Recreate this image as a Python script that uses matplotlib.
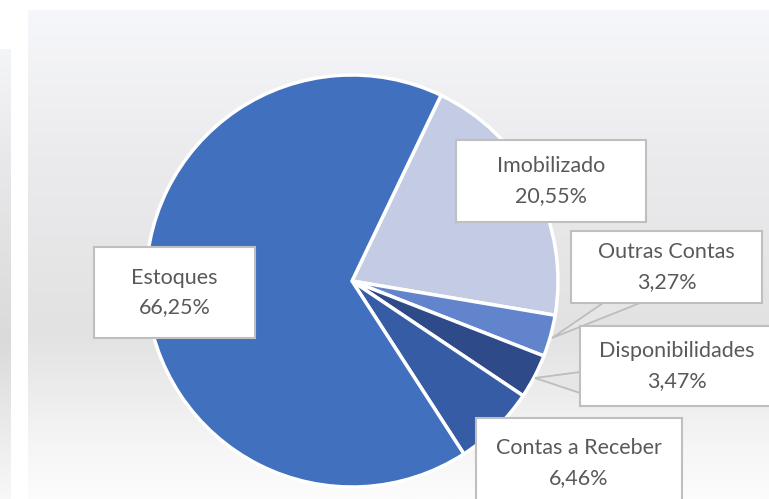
import numpy as np
import matplotlib
matplotlib.use("Agg")
import matplotlib.pyplot as plt
from matplotlib.colors import LinearSegmentedColormap
from matplotlib.patches import Rectangle, Polygon

# dados (ordem no sentido horario, a partir do topo direito)
categorias = ["Imobilizado", "Outras Contas", "Disponibilidades", "Contas a Receber", "Estoques"]
valores = [20.55, 3.27, 3.47, 6.46, 66.25]
rotulos = ["20,55%", "3,27%", "3,47%", "6,46%", "66,25%"]
cores = ["#c4cce5", "#6184cc", "#2e4a89", "#365ca6", "#4170be"]

W, H = 769, 499
fig = plt.figure(figsize=(W / 100, H / 100), dpi=100)
ax = fig.add_axes([0, 0, 1, 1])
ax.axis("off")

def py(y):
    # converte y em pixel (de cima) para coordenada do grafico
    return H - y

# fundo em degrade
fundo = LinearSegmentedColormap.from_list(
    "fundo", [(0, "#fcfcfc"), (0.1, "#f6f6f6"), (0.34, "#e2e2e2"), (0.7, "#ebebee"), (1, "#f6f7fa")])
grad = np.linspace(0, 1, 256).reshape(-1, 1)
ax.imshow(grad, cmap=fundo, origin="lower", extent=[28, W, 0, py(10)],
          aspect="auto", zorder=0)
fundo2 = LinearSegmentedColormap.from_list(
    "fundo2", [(0, "#f8f8f8"), (0.35, "#dadada"), (0.75, "#e8e8ea"), (1, "#f4f5f8")])
ax.imshow(grad, cmap=fundo2, origin="lower", extent=[0, 11, 0, py(49)],
          aspect="auto", zorder=0)

cx, cy, r = 352, py(281), 206
ax.pie(valores, colors=cores, startangle=64.4, counterclock=False,
       center=(cx, cy), radius=r,
       wedgeprops=dict(edgecolor="white", linewidth=2.5), frame=False)

# setas das legendas
setas = [
    [(552, 338), (603, 303), (640, 303)],
    [(535, 378), (580, 372), (580, 393)],
]
for s in setas:
    ax.add_patch(Polygon([(x, py(y)) for x, y in s], closed=True,
                         facecolor="#e6e6e6", edgecolor="#bdbdbd", lw=1.3, zorder=4))

caixas = {
    "Imobilizado": (456, 140, 646, 222),
    "Outras Contas": (571, 231, 762, 303),
    "Disponibilidades": (580, 326, 775, 406),
    "Contas a Receber": (476, 418, 682, 510),
    "Estoques": (94, 247, 255, 338),
}
for cat, rot in zip(categorias, rotulos):
    x0, y0, x1, y1 = caixas[cat]
    ax.add_patch(Rectangle((x0, py(y1)), x1 - x0, y1 - y0, facecolor="white",
                           edgecolor="#bfbfbf", lw=1.5, zorder=5))
    tx = (x0 + x1) / 2
    ty = (y0 + y1) / 2
    if cat == "Disponibilidades":
        tx = 676.5
    if cat == "Contas a Receber":
        ty = 463
    ax.text(tx, py(ty), cat + "\n" + rot, ha="center", va="center",
            fontsize=15.5, family="Lato", color="#595959", linespacing=1.6,
            zorder=6)

ax.set_xlim(0, W)
ax.set_ylim(0, H)
fig.savefig("out.png", dpi=100, facecolor="white")
